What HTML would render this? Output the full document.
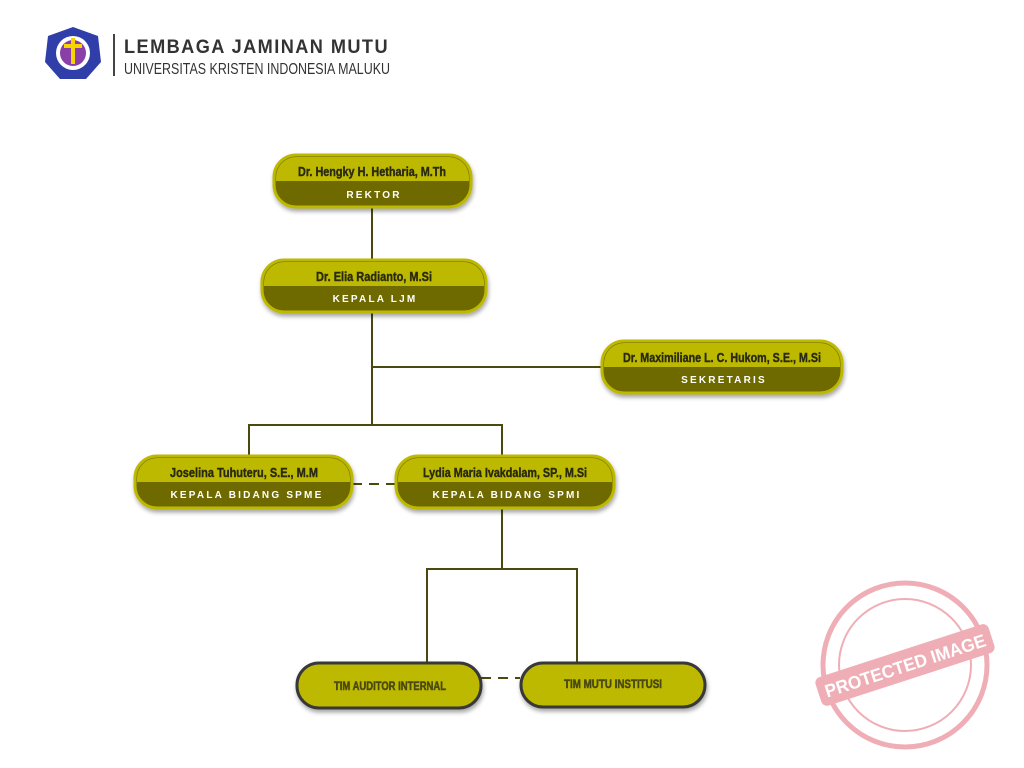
<!DOCTYPE html>
<html><head><style>body{margin:0;background:#fff}svg{display:block}</style></head>
<body>
<svg width="1024" height="768" viewBox="0 0 1024 768" xmlns="http://www.w3.org/2000/svg" font-family="Liberation Sans, sans-serif">
<defs>
<filter id="sh" x="-10%" y="-20%" width="120%" height="150%"><feDropShadow dx="1" dy="3" stdDeviation="2" flood-color="#000" flood-opacity="0.35"/></filter>
</defs>
<!-- header -->
<path d="M73 27 L98 36 L101 62 L86 79 L60 79 L45 62 L48 36 Z" fill="#2f3ea8"/>
<circle cx="73" cy="53" r="17" fill="#fff"/>
<circle cx="73" cy="53" r="13" fill="#8a3ea8"/>
<rect x="71" y="38" width="4" height="26" fill="#f5d400"/><rect x="64" y="44" width="18" height="4" fill="#f5d400"/>
<rect x="113" y="34" width="2" height="42" fill="#444"/>
<text x="124" y="53" font-size="19" font-weight="bold" fill="#333" letter-spacing="1.5" textLength="265" lengthAdjust="spacingAndGlyphs">LEMBAGA JAMINAN MUTU</text>
<text x="124" y="74" font-size="16" fill="#333" textLength="266" lengthAdjust="spacingAndGlyphs">UNIVERSITAS KRISTEN INDONESIA MALUKU</text>
<!-- connectors -->
<g stroke="#4a4a10" stroke-width="2" fill="none">
<path d="M372 208 V425 M372 367 H602 M249 456 V425 H502 V456 M502 508 V569 M427 662 V569 H577 V662"/>
<path d="M352 484 H396 M481 678 H520" stroke-dasharray="10 7"/>
</g>
<!-- nodes -->
<g font-weight="bold" text-anchor="middle">
<g filter="url(#sh)">
<rect x="274" y="155" width="197" height="52" rx="22" fill="#6e6b00" stroke="#bdb800" stroke-width="3"/>
<rect x="262" y="260" width="224" height="52" rx="22" fill="#6e6b00" stroke="#bdb800" stroke-width="3"/>
<rect x="602" y="341" width="240" height="52" rx="22" fill="#6e6b00" stroke="#bdb800" stroke-width="3"/>
<rect x="135" y="456" width="217" height="52" rx="22" fill="#6e6b00" stroke="#bdb800" stroke-width="3"/>
<rect x="396" y="456" width="218" height="52" rx="22" fill="#6e6b00" stroke="#bdb800" stroke-width="3"/>
<rect x="297" y="663" width="184" height="45" rx="22" fill="#bdb800" stroke="#383838" stroke-width="3"/>
<rect x="521" y="663" width="184" height="44" rx="22" fill="#bdb800" stroke="#383838" stroke-width="3"/>
</g>
<g fill="#bdb800">
<path d="M276 181 V177 a20 20 0 0 1 20 -20 H449 a20 20 0 0 1 20 20 V181 Z"/>
<path d="M264 286 V282 a20 20 0 0 1 20 -20 H464 a20 20 0 0 1 20 20 V286 Z"/>
<path d="M604 367 V363 a20 20 0 0 1 20 -20 H820 a20 20 0 0 1 20 20 V367 Z"/>
<path d="M137 482 V478 a20 20 0 0 1 20 -20 H330 a20 20 0 0 1 20 20 V482 Z"/>
<path d="M398 482 V478 a20 20 0 0 1 20 -20 H592 a20 20 0 0 1 20 20 V482 Z"/>
</g>
<g fill="#2a2a10" stroke="#2a2a10" stroke-width="0.4" font-size="13">
<text x="372" y="176" textLength="148" lengthAdjust="spacingAndGlyphs">Dr. Hengky H. Hetharia, M.Th</text>
<text x="374" y="281" textLength="116" lengthAdjust="spacingAndGlyphs">Dr. Elia Radianto, M.Si</text>
<text x="722" y="362" textLength="198" lengthAdjust="spacingAndGlyphs">Dr. Maximiliane L. C. Hukom, S.E., M.Si</text>
<text x="244" y="477" textLength="148" lengthAdjust="spacingAndGlyphs">Joselina Tuhuteru, S.E., M.M</text>
<text x="505" y="477" textLength="164" lengthAdjust="spacingAndGlyphs">Lydia Maria Ivakdalam, SP., M.Si</text>
</g>
<g fill="#fff" font-size="10" letter-spacing="2.2">
<text x="374" y="198">REKTOR</text>
<text x="375" y="302">KEPALA LJM</text>
<text x="724" y="383">SEKRETARIS</text>
<text x="247" y="498">KEPALA BIDANG SPME</text>
<text x="507" y="498">KEPALA BIDANG SPMI</text>
</g>
<g fill="#4a4a10" stroke="#4a4a10" stroke-width="0.5" font-size="12">
<text x="390" y="690" textLength="112" lengthAdjust="spacingAndGlyphs">TIM AUDITOR INTERNAL</text>
<text x="613" y="688" textLength="98" lengthAdjust="spacingAndGlyphs">TIM MUTU INSTITUSI</text>
</g>
</g>
<!-- stamp -->
<g opacity="0.5" fill="none" stroke="#e06070">
<circle cx="905" cy="665" r="82" stroke-width="5"/>
<circle cx="905" cy="665" r="66" stroke-width="2"/>
<g transform="rotate(-18 905 665)"><rect x="814" y="650" width="182" height="30" rx="6" fill="#e06070" stroke="none"/>
<text x="905" y="672" font-size="18" font-weight="bold" fill="#fff" stroke="none" text-anchor="middle" textLength="168" lengthAdjust="spacingAndGlyphs">PROTECTED IMAGE</text></g>
</g>
</svg>
</body></html>
